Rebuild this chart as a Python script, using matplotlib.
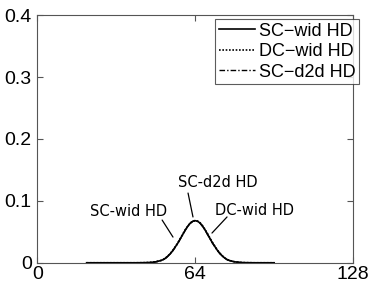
import numpy as np
import matplotlib
matplotlib.use('Agg')
import matplotlib.pyplot as plt

# Hamming distance distributions
hd_x = [20, 30, 40, 44, 46, 48, 50, 51, 52, 53, 54, 55, 56, 57, 58, 59, 60, 61, 62, 63, 64,
        65, 66, 67, 68, 69, 70, 71, 72, 73, 74, 75, 76, 77, 78, 80, 82, 84, 88, 96]
sc_wid = [0, 0, 0, 0.0002, 0.0006, 0.0015, 0.0035, 0.005, 0.0075, 0.011, 0.015, 0.02, 0.026,
          0.032, 0.039, 0.046, 0.053, 0.059, 0.064, 0.067, 0.068,
          0.067, 0.064, 0.059, 0.053, 0.046, 0.039, 0.032, 0.026, 0.02, 0.015, 0.011, 0.0075,
          0.005, 0.0035, 0.0015, 0.0006, 0.0002, 0, 0]
dc_wid = [0, 0, 0, 0.0002, 0.0006, 0.0016, 0.0036, 0.0052, 0.0078, 0.0112, 0.0155, 0.0205, 0.0265,
          0.0325, 0.0395, 0.0465, 0.0535, 0.0595, 0.0642, 0.0672, 0.0682,
          0.0672, 0.0645, 0.0598, 0.0538, 0.047, 0.0398, 0.0328, 0.0265, 0.0205, 0.0155, 0.0112,
          0.0078, 0.0052, 0.0036, 0.0016, 0.0006, 0.0002, 0, 0]
sc_d2d = [0, 0, 0, 0.0002, 0.0005, 0.0014, 0.0034, 0.0049, 0.0074, 0.0108, 0.0148, 0.0198, 0.0258,
          0.0318, 0.0388, 0.0458, 0.0528, 0.0588, 0.0638, 0.0668, 0.0678,
          0.0668, 0.0638, 0.0588, 0.0528, 0.0458, 0.0388, 0.0318, 0.0258, 0.0198, 0.0148, 0.0108,
          0.0074, 0.0049, 0.0034, 0.0014, 0.0005, 0.0002, 0, 0]

x_ticks = [0, 64, 128]
y_ticks = [0, 0.1, 0.2, 0.3, 0.4]
y_labels = ['0', '0.1', '0.2', '0.3', '0.4']
series_names = ['SC\u2212wid HD', 'DC\u2212wid HD', 'SC\u2212d2d HD']

plt.rcParams['font.family'] = ['Liberation Sans', 'DejaVu Sans']

fig = plt.figure(figsize=(3.69, 2.91), dpi=100)
ax = fig.add_axes([0.101, 0.097, 0.856, 0.851])

ax.plot(hd_x, sc_wid, color='black', linestyle='-', linewidth=1.2, label=series_names[0])
ax.plot(hd_x, dc_wid, color='black', linestyle=(0, (1, 1)), linewidth=1.2, label=series_names[1])
ax.plot(hd_x, sc_d2d, color='black', linestyle=(0, (4, 1.5, 1, 1.5)), linewidth=1.0, label=series_names[2])

ax.set_xlim(0, 128)
ax.set_ylim(0, 0.4)
ax.set_xticks(x_ticks)
ax.set_yticks(y_ticks)
ax.set_yticklabels(y_labels)
ax.tick_params(direction='in', top=True, right=True, length=4, labelsize=14, color='#555555')
ax.tick_params(axis='x', pad=2)
ax.tick_params(axis='y', pad=4)
for s in ax.spines.values():
    s.set_color('#555555')
    s.set_linewidth(0.8)

leg = fig.legend(loc='upper right', bbox_to_anchor=(0.973, 0.935), fontsize=13,
                 frameon=True, fancybox=False, edgecolor='#333333', handlelength=2.0,
                 handletextpad=0.2, borderpad=0.2, labelspacing=0.2, borderaxespad=0)
leg.get_frame().set_linewidth(0.8)

txt = dict(fontsize=10.5, ha='center', va='center', family='DejaVu Sans')
ax.text(36.8, 0.0835, 'SC-wid HD', **txt)
ax.text(73.3, 0.129, 'SC-d2d HD', **txt)
ax.text(88.2, 0.084, 'DC-wid HD', **txt)

line = dict(arrowprops=dict(arrowstyle='-', color='black', lw=0.9, shrinkA=0, shrinkB=0))
ax.annotate('', xy=(55.0, 0.0415), xytext=(50.6, 0.069), **line)
ax.annotate('', xy=(63.1, 0.074), xytext=(61.1, 0.1126), **line)
ax.annotate('', xy=(70.8, 0.048), xytext=(76.9, 0.074), **line)

fig.savefig('out.png', dpi=100)
